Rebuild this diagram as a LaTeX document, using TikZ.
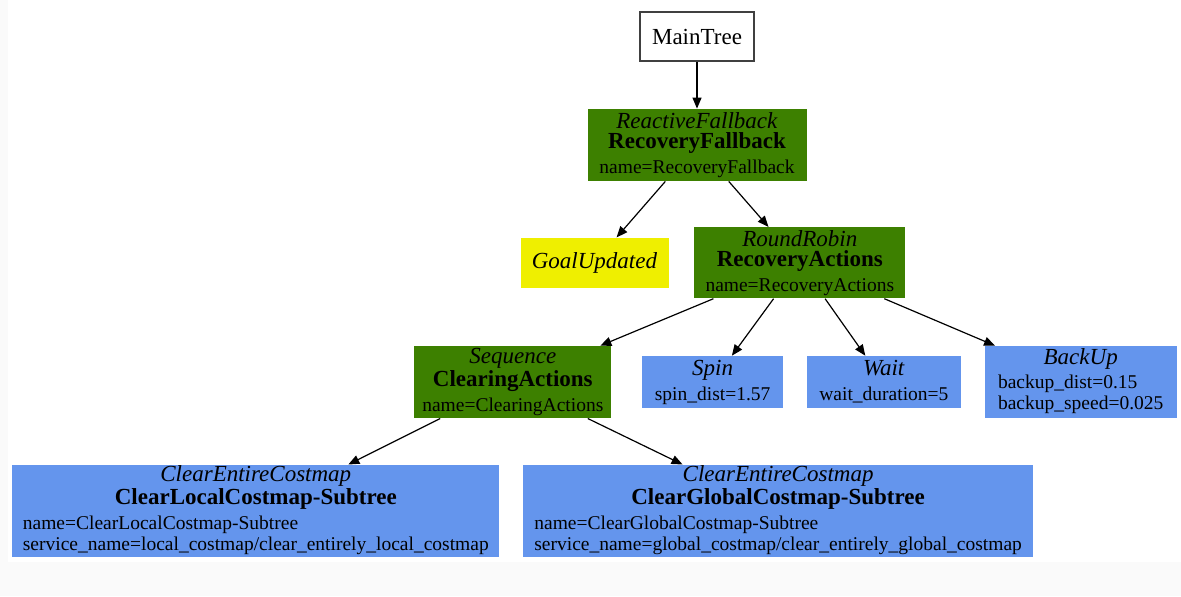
\documentclass[tikz,border=0pt]{standalone}
\usepackage{fontspec}
\setmainfont{Liberation Serif}
\usepackage{tikz}
\usetikzlibrary{arrows.meta,positioning}
\definecolor{CtrlGreen}{HTML}{3D8000}
\definecolor{ActBlue}{HTML}{6495ED}
\definecolor{CondYellow}{HTML}{EFEF00}
\definecolor{PageGray}{HTML}{FAFAFA}
\newcommand{\attrfont}{\fontsize{9.75}{10.5}\selectfont}

\begin{document}
\begin{tikzpicture}[
  bt/.style={rectangle,inner sep=0pt,align=center,font=\fontsize{11.5}{10}\selectfont},
  root/.style={bt,draw=black!75,fill=white,line width=0.6pt},
  ctrl/.style={bt,fill=CtrlGreen},
  act/.style={bt,fill=ActBlue},
  cond/.style={bt,fill=CondYellow},
  arrow/.style={-{Triangle[length=5.5pt,width=4.5pt]},line width=0.6pt}
]

\useasboundingbox (0,0) rectangle (590.5pt,-298pt);
\fill[PageGray] (0,0) rectangle (590.5pt,-298pt);
\fill[white] (4pt,0) rectangle (590.5pt,-281pt);

%% Root and fallback
\node[root,minimum width=57pt,minimum height=24.5pt] (main) at (348.5pt,-18.25pt) {MainTree};
\node[ctrl,minimum width=109.5pt,minimum height=36pt,below=23.5pt of main] (rfb)
  {\textit{ReactiveFallback}\\\textbf{RecoveryFallback}\\[2.5pt]{\attrfont name=RecoveryFallback}};

%% Second level
\node[cond,minimum width=74pt,minimum height=25pt,below=28pt of rfb,xshift=-51.25pt] (goal)
  {\textit{GoalUpdated}};
\node[ctrl,minimum width=105.5pt,minimum height=35.5pt,right=12.5pt of goal] (ractions)
  {\textit{RoundRobin}\\\textbf{RecoveryActions}\\[2.5pt]{\attrfont name=RecoveryActions}};

%% Recovery actions
\node[ctrl,minimum width=98.5pt,minimum height=36pt,below=23.5pt of ractions,xshift=-143.5pt] (clearing)
  {\textit{Sequence}\\\textbf{ClearingActions}\\[2.5pt]{\attrfont name=ClearingActions}};
\node[act,minimum width=70.5pt,minimum height=26pt,right=15pt of clearing] (spin)
  {\textit{Spin}\\[2.5pt]{\attrfont spin\_dist=1.57}};
\node[act,minimum width=77pt,minimum height=26pt,right=11.5pt of spin] (wait)
  {\textit{Wait}\\[2.5pt]{\attrfont wait\_duration=5}};
\node[act,minimum width=96pt,minimum height=36pt,right=11.5pt of wait] (backup)
  {\textit{BackUp}\\[2pt]{\attrfont\begin{tabular}[t]{@{}l@{}}backup\_dist=0.15\\backup\_speed=0.025\end{tabular}}};

%% Costmap clearing
\node[act,minimum width=243.5pt,minimum height=46pt,below=23pt of clearing,xshift=-128.5pt] (clocal)
  {\textit{ClearEntireCostmap}\\\textbf{ClearLocalCostmap-Subtree}\\[2.5pt]
   {\attrfont\begin{tabular}[t]{@{}l@{}}name=ClearLocalCostmap-Subtree\\service\_name=local\_costmap/clear\_entirely\_local\_costmap\end{tabular}}};
\node[act,minimum width=255pt,minimum height=46pt,right=11.5pt of clocal] (cglobal)
  {\textit{ClearEntireCostmap}\\\textbf{ClearGlobalCostmap-Subtree}\\[2.5pt]
   {\attrfont\begin{tabular}[t]{@{}l@{}}name=ClearGlobalCostmap-Subtree\\service\_name=global\_costmap/clear\_entirely\_global\_costmap\end{tabular}}};

%% Arrows
\draw[arrow] (main) -- (rfb);
\draw[arrow] (rfb) -- (goal);
\draw[arrow] (rfb) -- (ractions);
\draw[arrow] (ractions) -- (clearing);
\draw[arrow] (ractions) -- (spin);
\draw[arrow] (ractions) -- (wait);
\draw[arrow] (ractions) -- (backup);
\draw[arrow] (clearing) -- (clocal);
\draw[arrow] (clearing) -- (cglobal);

\end{tikzpicture}
\end{document}
